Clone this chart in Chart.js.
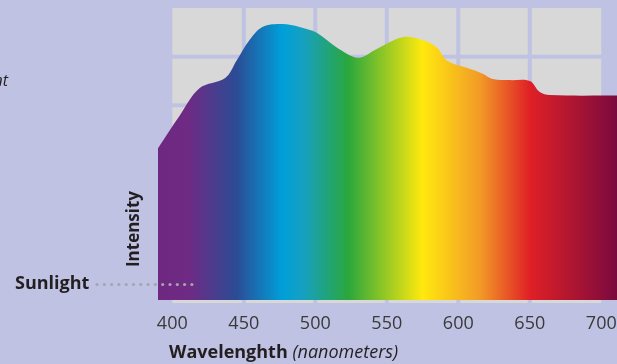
<!DOCTYPE html>
<html>
<head>
<meta charset="utf-8">
<script src="https://cdn.jsdelivr.net/npm/chart.js@4/dist/chart.umd.min.js"></script>
<style>
  html, body { margin: 0; padding: 0; background: #bfc2e3; overflow: hidden; }
</style>
</head>
<body>
<canvas id="spectrumChart" width="617" height="364"></canvas>
<script>
// sunlight spectrum (relative intensity vs wavelength in nm)
const wavelengths = [390, 405, 419, 437, 445, 454, 463, 477, 489, 501, 515, 530, 543, 561, 575, 585, 592, 606, 617, 624, 636, 650, 657, 664, 711];
const intensity = [52, 63, 72.5, 76, 82, 89, 93.5, 94.5, 93.5, 91.5, 86.5, 83, 86, 90, 89, 86.5, 82, 79.5, 77.5, 75.7, 75.3, 75, 71.2, 70.2, 70];
const tickLabels = [400, 450, 500, 550, 600, 650, 700];
const rowCount = 6;

// colour of the light at each wavelength
const spectrumStops = [
  [390, '#6e2882'], [411, '#6f2a84'], [445, '#2b4c95'], [477, '#009fd9'],
  [492, '#16a0c0'], [523, '#2aa73c'], [575, '#ffe90e'], [615, '#f29b27'],
  [650, '#e02026'], [711, '#7a0a3d']
];

const textColor = '#231f20';
const fontFamily = '"Open Sans", sans-serif';

// grey cells between the tick lines
const panelPlugin = {
  id: 'panel',
  beforeDatasetsDraw(chart) {
    const { ctx, scales: { x, y } } = chart;
    const xs = tickLabels.map(v => x.getPixelForValue(v));
    const rows = [];
    for (let k = 0; k <= rowCount; k++) rows.push(y.getPixelForValue(k * 100 / rowCount));
    ctx.save();
    ctx.fillStyle = '#d8d8d8';
    for (let i = 0; i < xs.length - 1; i++) {
      for (let k = 0; k < rowCount; k++) {
        const l = xs[i] + (i > 0 ? 2 : 0);
        const r = xs[i + 1] - (i < xs.length - 2 ? 2 : 0);
        const t = rows[k + 1] + (k < rowCount - 1 ? 2 : 0);
        const b = k === 0 ? rows[0] + 3 : rows[k] - 2;
        ctx.fillRect(l, t, r - l, b - t);
      }
    }
    ctx.restore();
  }
};

// axis titles, the sunlight marker and the cut-off side label
const labelsPlugin = {
  id: 'labels',
  afterDatasetsDraw(chart) {
    const { ctx } = chart;
    ctx.save();
    ctx.fillStyle = textColor;

    ctx.font = 'italic 16px ' + fontFamily;
    ctx.textAlign = 'right';
    ctx.textBaseline = 'alphabetic';
    ctx.fillText('Fluorescent', 8, 86);

    ctx.textAlign = 'left';
    ctx.textBaseline = 'middle';
    ctx.font = 'bold 18px ' + fontFamily;
    ctx.fillText('Sunlight', 15, 284);

    ctx.fillStyle = '#a6a4ad';
    for (let i = 0; i < 14; i++) {
      ctx.beginPath();
      ctx.arc(97 + i * 7.3, 284.5, 1.6, 0, Math.PI * 2);
      ctx.fill();
    }

    ctx.fillStyle = textColor;
    ctx.save();
    ctx.translate(134, 229);
    ctx.rotate(-Math.PI / 2);
    ctx.textAlign = 'center';
    ctx.font = 'bold 17px ' + fontFamily;
    ctx.fillText('Intensity', 0, 0);
    ctx.restore();

    ctx.textBaseline = 'alphabetic';
    ctx.font = 'bold 18px ' + fontFamily;
    const word = 'Wavelenghth ';
    ctx.fillText(word, 169, 358);
    const w = ctx.measureText(word).width;
    ctx.font = 'italic 18px ' + fontFamily;
    ctx.fillText('(nanometers)', 169 + w, 358);
    ctx.restore();
  }
};

function spectrumFill(context) {
  const chart = context.chart;
  const area = chart.chartArea;
  if (!area) return null;
  const x = chart.scales.x;
  const g = chart.ctx.createLinearGradient(area.left, 0, area.right, 0);
  spectrumStops.forEach(([nm, c]) => {
    const p = (x.getPixelForValue(nm) - area.left) / (area.right - area.left);
    g.addColorStop(Math.min(1, Math.max(0, p)), c);
  });
  return g;
}

new Chart(document.getElementById('spectrumChart'), {
  type: 'line',
  data: {
    datasets: [{
      data: wavelengths.map((w, i) => ({ x: w, y: intensity[i] })),
      fill: 'origin',
      backgroundColor: spectrumFill,
      borderWidth: 0,
      pointRadius: 0,
      tension: 0.35
    }]
  },
  options: {
    responsive: false,
    animation: false,
    devicePixelRatio: 1,
    layout: { padding: { left: 158, top: 8, right: 0, bottom: 0 } },
    plugins: { legend: { display: false }, tooltip: { enabled: false } },
    scales: {
      x: {
        type: 'linear',
        min: 390,
        max: 711,
        afterBuildTicks: s => { s.ticks = tickLabels.map(v => ({ value: v })); },
        afterFit: s => { s.height = 64; s.paddingLeft = 0; s.paddingRight = 0; },
        grid: { display: false, drawTicks: false },
        border: { display: false },
        ticks: {
          autoSkip: false,
          maxRotation: 0,
          padding: 13,
          color: '#3a3a3a',
          font: { family: '"Open Sans", sans-serif', size: 18 }
        }
      },
      y: {
        display: false,
        min: 0,
        max: 100
      }
    }
  },
  plugins: [panelPlugin, labelsPlugin]
});
</script>
</body>
</html>
